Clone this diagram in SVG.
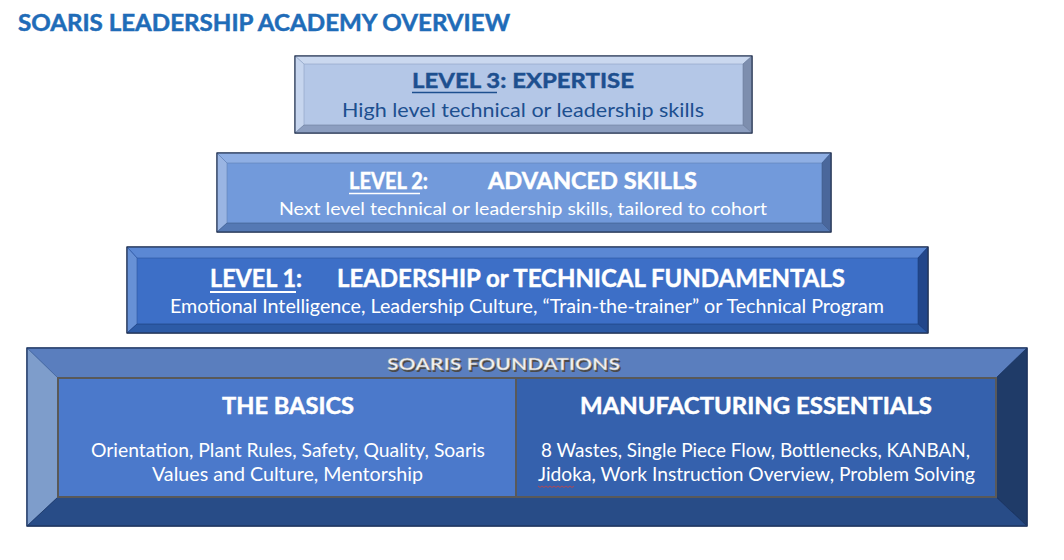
<svg xmlns="http://www.w3.org/2000/svg" width="1064" height="560" viewBox="0 0 1064 560">
<style>
text{font-family:Lato,"Liberation Sans",sans-serif}
.b{font-weight:bold}
.w{fill:#FFFFFF}
.d{fill:#1D4F8F}
.bw{stroke:#FFFFFF;stroke-width:0.45}
.bd{stroke:#1D4F8F;stroke-width:0.45}
.edge{stroke:#24324f;stroke-width:1}
.bev{stroke-width:0.6}
</style>
<rect width="1064" height="560" fill="#FFFFFF"/>
<text x="18" y="31" class="b" font-size="23" fill="#1F6CB8" stroke="#1F6CB8" stroke-width="0.5" textLength="492" lengthAdjust="spacingAndGlyphs">SOARIS LEADERSHIP ACADEMY OVERVIEW</text>

<g id="level3">
<rect x="295" y="56" width="457" height="77" fill="#B4C7E7" class="edge"/>
<polygon points="295,56 752,56 743,64 304,64" fill="#CAD8EF" stroke="#8FA2C4" class="bev"/>
<polygon points="295,56 304,64 304,125 295,133" fill="#C6D5EE" stroke="#8FA2C4" class="bev"/>
<polygon points="752,56 752,133 743,125 743,64" fill="#7D8EAE" stroke="#6B7C9C" class="bev"/>
<polygon points="295,133 304,125 743,125 752,133" fill="#8C9EC0" stroke="#6B7C9C" class="bev"/>
<rect x="295" y="56" width="457" height="77" fill="none" class="edge"/>
<text x="412" y="88" class="b d bd" font-size="21" textLength="222" lengthAdjust="spacingAndGlyphs">LEVEL 3: EXPERTISE</text>
<line x1="412" y1="92.5" x2="497" y2="92.5" stroke="#1D4F8F" stroke-width="1.6"/>
<text x="342" y="117" class="d" font-size="19" textLength="362" lengthAdjust="spacingAndGlyphs">High level technical or leadership skills</text>
</g>

<g id="level2">
<rect x="217" y="153" width="614" height="79" fill="#729ADB" class="edge"/>
<polygon points="217,153 831,153 822,163 227,163" fill="#8FAFE4" stroke="#5E7FB6" class="bev"/>
<polygon points="217,153 227,163 227,223 217,232" fill="#9AB5E3" stroke="#5E7FB6" class="bev"/>
<polygon points="831,153 831,232 822,223 822,163" fill="#4A679B" stroke="#3E5A8C" class="bev"/>
<polygon points="217,232 227,223 822,223 831,232" fill="#5579B4" stroke="#3E5A8C" class="bev"/>
<rect x="217" y="153" width="614" height="79" fill="none" class="edge"/>
<text x="349" y="189" class="b w bw" font-size="22" textLength="79" lengthAdjust="spacingAndGlyphs">LEVEL 2:</text>
<line x1="349" y1="193.5" x2="420" y2="193.5" stroke="#FFFFFF" stroke-width="1.6"/>
<text x="488" y="189" class="b w bw" font-size="22" textLength="209" lengthAdjust="spacingAndGlyphs">ADVANCED SKILLS</text>
<text x="279" y="215" class="w" font-size="18" textLength="488" lengthAdjust="spacingAndGlyphs">Next level technical or leadership skills, tailored to cohort</text>
</g>

<g id="level1">
<rect x="127" y="247" width="801" height="86" fill="#3D6FC7" class="edge"/>
<polygon points="127,247 928,247 918,258 137,258" fill="#5B88D4" stroke="#2D56A0" class="bev"/>
<polygon points="127,247 137,258 137,324 127,333" fill="#6791D6" stroke="#2D56A0" class="bev"/>
<polygon points="928,247 928,333 918,324 918,258" fill="#22468A" stroke="#1C3C78" class="bev"/>
<polygon points="127,333 137,324 918,324 928,333" fill="#2D5BA6" stroke="#1C3C78" class="bev"/>
<rect x="127" y="247" width="801" height="86" fill="none" class="edge"/>
<text x="210" y="287" class="b w bw" font-size="25" textLength="92" lengthAdjust="spacingAndGlyphs">LEVEL 1:</text>
<line x1="210" y1="292" x2="296" y2="292" stroke="#FFFFFF" stroke-width="1.8"/>
<text x="337" y="287" class="b w bw" font-size="25" textLength="508" lengthAdjust="spacingAndGlyphs">LEADERSHIP or TECHNICAL FUNDAMENTALS</text>
<text x="170" y="313" class="w" font-size="18.5" textLength="714" lengthAdjust="spacingAndGlyphs">Emotional Intelligence, Leadership Culture, “Train-the-trainer” or Technical Program</text>
</g>

<g id="foundations">
<rect x="27" y="348" width="1000" height="178" fill="#4B79CB" class="edge"/>
<polygon points="27,348 1027,348 996,378 58,378" fill="#5A7EBE" stroke="#3E5F99" class="bev"/>
<polygon points="27,348 58,378 58,497 27,526" fill="#7E9DCB" stroke="#3E5F99" class="bev"/>
<polygon points="1027,348 1027,526 996,497 996,378" fill="#1F3B68" stroke="#172E55" class="bev"/>
<polygon points="27,526 58,497 996,497 1027,526" fill="#284C87" stroke="#172E55" class="bev"/>
<rect x="27" y="348" width="1000" height="178" fill="none" stroke="#1F3864" stroke-width="1.2"/>
<text x="388.5" y="371.5" class="b" font-family="'Liberation Sans',sans-serif" font-size="17.5" fill="#4A4A4A" textLength="233" lengthAdjust="spacingAndGlyphs">SOARIS FOUNDATIONS</text>
<text x="387" y="370" class="b" font-family="'Liberation Sans',sans-serif" font-size="17.5" fill="#F2F2F2" stroke="#9A9A9A" stroke-width="0.4" textLength="233" lengthAdjust="spacingAndGlyphs">SOARIS FOUNDATIONS</text>
</g>

<g id="basics">
<rect x="58" y="378" width="458" height="119" fill="#4B79CB" stroke="#595959" stroke-width="2"/>
<text x="222" y="414" class="b w bw" font-size="22" textLength="132" lengthAdjust="spacingAndGlyphs">THE BASICS</text>
<text x="91" y="457" class="w" font-size="19" textLength="394" lengthAdjust="spacingAndGlyphs">Orientation, Plant Rules, Safety, Quality, Soaris</text>
<text x="152" y="481" class="w" font-size="19" textLength="271" lengthAdjust="spacingAndGlyphs">Values and Culture, Mentorship</text>
</g>

<g id="essentials">
<rect x="516" y="378" width="480" height="119" fill="#3561AD" stroke="#595959" stroke-width="2"/>
<text x="580" y="414" class="b w bw" font-size="22" textLength="352" lengthAdjust="spacingAndGlyphs">MANUFACTURING ESSENTIALS</text>
<text x="541" y="457" class="w" font-size="19" textLength="429" lengthAdjust="spacingAndGlyphs">8 Wastes, Single Piece Flow, Bottlenecks, KANBAN,</text>
<text x="538" y="481" class="w" font-size="19" textLength="437" lengthAdjust="spacingAndGlyphs">Jidoka, Work Instruction Overview, Problem Solving</text>
<path d="M538,486 l2,1.5 l2,-1.5 l2,1.5 l2,-1.5 l2,1.5 l2,-1.5 l2,1.5 l2,-1.5 l2,1.5 l2,-1.5 l2,1.5 l2,-1.5 l2,1.5 l2,-1.5 l2,1.5 l2,-1.5 l2,1.5 l2,-1.5" fill="none" stroke="#D04040" stroke-width="0.8"/>
</g>

<g id="connectors"></g>
</svg>
